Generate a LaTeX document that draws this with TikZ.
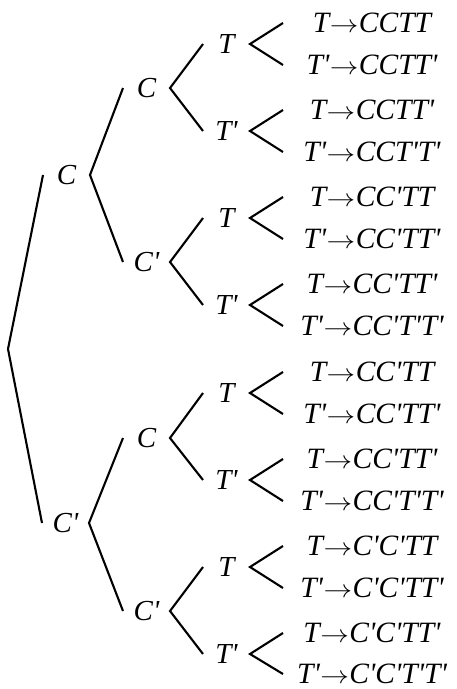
\documentclass[tikz,border=0pt]{standalone}
\usepackage{fontspec}
\usepackage{graphicx}
\newfontfamily\tms{Liberation Serif}
\newcommand{\ar}{\kern0.5pt\scalebox{1.15}[1]{\textup{$\rightarrow$}}\kern0.5pt}
\begin{document}
\begin{tikzpicture}[x=1pt,y=-1pt,line width=2.1pt,
  lab/.style={inner sep=0pt,outer sep=0pt,minimum width=47pt,text height=19pt,text depth=0pt,font=\tms\itshape\fontsize{29}{29}\selectfont},
  leaf/.style={inner sep=0pt,outer sep=0pt,minimum width=178pt,text height=19pt,text depth=0pt,font=\tms\itshape\fontsize{29.5}{29.5}\selectfont}]
\useasboundingbox (0,0) rectangle (457,689);
\coordinate (r) at (8,349);
% level 1
\node[lab] (a1) at (66.5,175) {C};
\node[lab] (a2) at (65.5,523) {C'};
% level 2
\node[lab] (b1) at (146.5,88) {C};
\node[lab] (b2) at (146.5,262) {C'};
\node[lab] (b3) at (146.5,438) {C};
\node[lab] (b4) at (146.5,611) {C'};
% level 3
\node[lab] (c1) at (226.5,44) {T};
\node[lab] (c2) at (226.5,131) {T'};
\node[lab] (c3) at (226.5,218) {T};
\node[lab] (c4) at (226.5,305) {T'};
\node[lab] (c5) at (226.5,393) {T};
\node[lab] (c6) at (226.5,480) {T'};
\node[lab] (c7) at (226.5,567) {T};
\node[lab] (c8) at (226.5,654) {T'};
% leaves
\node[leaf] (d1a) at (372,23) {T\ar CCTT};
\node[leaf] (d1b) at (372,65) {T'\ar CCTT'};
\node[leaf] (d2a) at (372,110) {T\ar CCTT'};
\node[leaf] (d2b) at (372,152) {T'\ar CCT'T'};
\node[leaf] (d3a) at (372,197) {T\ar CC'TT};
\node[leaf] (d3b) at (372,239) {T'\ar CC'TT'};
\node[leaf] (d4a) at (372,284) {T\ar CC'TT'};
\node[leaf] (d4b) at (372,326) {T'\ar CC'T'T'};
\node[leaf] (d5a) at (372,372) {T\ar CC'TT};
\node[leaf] (d5b) at (372,414) {T'\ar CC'TT'};
\node[leaf] (d6a) at (372,459) {T\ar CC'TT'};
\node[leaf] (d6b) at (372,501) {T'\ar CC'T'T'};
\node[leaf] (d7a) at (372,546) {T\ar C'C'TT};
\node[leaf] (d7b) at (372,588) {T'\ar C'C'TT'};
\node[leaf] (d8a) at (372,633) {T\ar C'C'TT'};
\node[leaf] (d8b) at (372,674) {T'\ar C'C'T'T'};
% connectors
\draw (a1.west) -- (r) -- (a2.west);
\draw (b1.west) -- (a1.east) -- (b2.west);
\draw (b3.west) -- (a2.east) -- (b4.west);
\draw (c1.west) -- (b1.east) -- (c2.west);
\draw (c3.west) -- (b2.east) -- (c4.west);
\draw (c5.west) -- (b3.east) -- (c6.west);
\draw (c7.west) -- (b4.east) -- (c8.west);
\foreach \i in {1,...,8}{
  \draw (d\i a.west) -- (c\i.east) -- (d\i b.west);
}
\end{tikzpicture}
\end{document}
